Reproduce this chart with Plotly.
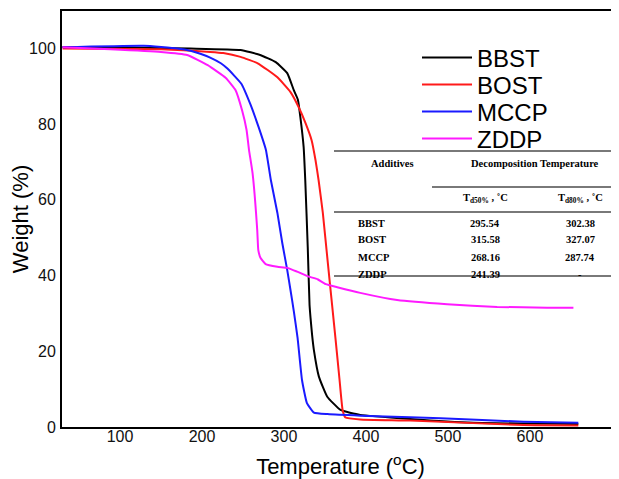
import plotly.graph_objects as go

# ---------------- data ----------------
bbst_T = [30, 100, 186, 247, 271, 290, 304, 312, 317, 320, 324, 326, 329, 331.2, 332.4, 334.3, 336.5, 342.6, 352.8, 369, 393, 454, 531, 659]
bbst_W = [100.3, 100.2, 99.9, 99.5, 98.2, 96.3, 93.4, 88.9, 86.4, 81.8, 73.9, 65.0, 47.5, 32.2, 28.8, 24.3, 20.3, 13.3, 8.0, 4.5, 3.2, 2.1, 1.1, 0.8]

bost_T = [30, 150, 210, 226, 247, 268, 292, 308, 318, 326.3, 333.7, 338.5, 342.2, 347.4, 353.5, 359.3, 363, 367.8, 371.5, 375, 393, 454, 592, 659]
bost_W = [99.9, 99.7, 99.0, 98.7, 97.7, 96.0, 92.3, 88.4, 84.4, 80.2, 75.7, 70.4, 65.2, 56.5, 43.3, 30.9, 23.0, 12.4, 4.5, 2.5, 2.0, 1.7, 0.5, 0.4]

mccp_T = [30, 129, 170, 186, 198, 210, 223, 231, 248, 259, 269, 278, 284, 292, 298, 304, 308, 312, 316.6, 322, 328, 336.5, 353, 393, 454, 491, 592, 659]
mccp_W = [100.2, 100.6, 99.9, 99.3, 98.5, 97.5, 96.0, 94.6, 90.6, 85.2, 79.2, 73.1, 65.2, 56.5, 48.5, 41.4, 36.1, 30.6, 23.5, 12.4, 6.3, 3.8, 3.4, 3.0, 2.6, 2.3, 1.4, 1.1]

zddp_T = [30, 88, 150, 182, 207, 228.8, 241, 248.9, 254.4, 257.4, 261.7, 267.4, 268.7, 271.5, 277.6, 292, 304, 316, 330, 341, 351, 365, 393, 438, 499, 560, 621, 653]
zddp_W = [100.2, 99.7, 99.0, 98.2, 95.5, 92.2, 88.9, 83.6, 78.4, 73.1, 67.0, 52.0, 46.7, 44.6, 43.0, 42.3, 42.0, 41.0, 39.7, 39.0, 37.7, 36.9, 35.4, 33.5, 32.4, 31.7, 31.5, 31.5]

series_names = ["BBST", "BOST", "MCCP", "ZDDP"]
series_colors = ["#000000", "#ff1a1a", "#1a1aff", "#ff1aff"]

# table contents
table_rows = ["BBST", "BOST", "MCCP", "ZDDP"]
td50 = ["295.54", "315.58", "268.16", "241.39"]
td80 = ["302.38", "327.07", "287.74", "-"]

x_ticks = [100, 200, 300, 400, 500, 600]
y_ticks = [0, 20, 40, 60, 80, 100]

# ---------------- geometry (screen px of reference; page has 8px body margin) ----------------
OFF = 8
W, H = 619 - OFF, 479 - OFF
ML, MT = 62 - OFF, 11 - OFF
PW, PH = 557, 416
MR = W - ML - PW
MB = H - MT - PH


def px(xs):  # reference screen x -> paper
    return (xs - OFF - ML) / PW


def py(ys):  # reference screen y -> paper
    return (MT + PH - (ys - OFF)) / PH


sans = "Arial, Liberation Sans, sans-serif"
serif = "Times New Roman, Liberation Serif, serif"

fig = go.Figure()
legend_names = ["legend", "legend2", "legend3", "legend4"]
legend_y = [58, 85, 112, 139]
for T, Wt, name, col, lg in zip([bbst_T, bost_T, mccp_T, zddp_T],
                                [bbst_W, bost_W, mccp_W, zddp_W],
                                series_names, series_colors, legend_names):
    fig.add_trace(go.Scatter(x=T, y=Wt, mode="lines", name=name, legend=lg,
                             line=dict(color=col, width=2, shape="spline", smoothing=0.4)))

layout_legends = {}
for lg, ly in zip(legend_names, legend_y):
    layout_legends[lg] = dict(x=px(417), y=py(ly), xanchor="left", yanchor="middle",
                              font=dict(family=sans, size=24, color="black"),
                              bgcolor="rgba(0,0,0,0)", itemwidth=50)

fig.update_layout(
    width=W, height=H,
    margin=dict(l=ML, r=MR, t=MT, b=MB, pad=0, autoexpand=False),
    paper_bgcolor="white", plot_bgcolor="white",
    font=dict(family=sans, color="black"),
    showlegend=True,
    xaxis=dict(range=[29.3, 708.6], tickvals=x_ticks, ticks="", ticklabelstandoff=-6,
               showline=True, linecolor="black", linewidth=2, mirror=True,
               showgrid=False, zeroline=False, automargin=False,
               tickfont=dict(family=sans, size=16, color="#111"),
               title=dict(text="Temperature (<sup>o</sup>C)", standoff=28,
                          font=dict(family=sans, size=22, color="black"))),
    yaxis=dict(range=[0, 109.8], tickvals=y_ticks, ticks="", ticklabelstandoff=1,
               showline=True, linecolor="black", linewidth=2, mirror=False,
               showgrid=False, zeroline=False, automargin=False,
               tickfont=dict(family=sans, size=16, color="#111"),
               title=dict(text="Weight (%)", standoff=14,
                          font=dict(family=sans, size=22, color="black"))),
    **layout_legends,
)

# table rules
line_col = "#4d4d4d"
for x0, ys in [(334, 151), (432, 187), (334, 212), (334, 276)]:
    fig.add_shape(type="line", xref="paper", yref="paper",
                  x0=px(x0), x1=1.0, y0=py(ys), y1=py(ys),
                  line=dict(color=line_col, width=1.6))


def ann(text, xs, ys, anchor="center", size=10.5):
    fig.add_annotation(text=text, xref="paper", yref="paper", x=px(xs), y=py(ys),
                       xanchor=anchor, yanchor="middle", showarrow=False,
                       font=dict(family=serif, size=size, color="black"))


ann("<b>Additives</b>", 392, 163)
ann("<b>Decomposition Temperature</b>", 535, 163)
ann("<b>T<sub>d50%</sub> , ˚C</b>", 485, 199)
ann("<b>T<sub>d80%</sub> , ˚C</b>", 580, 199)
row_y = [223, 240, 257, 274]
for name, a, b, yy in zip(table_rows, td50, td80, row_y):
    ann("<b>%s</b>" % name, 356, yy, anchor="left")
    ann("<b>%s</b>" % a, 485, yy)
    ann("<b>%s</b>" % b, 580, yy)

fig.write_html("out.html")
